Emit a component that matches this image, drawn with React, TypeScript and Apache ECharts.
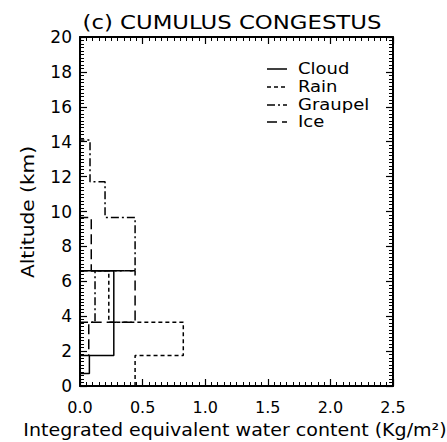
import React, { useEffect, useRef } from "react";
import * as echarts from "echarts";

// Layer boundaries (km) and layer-mean values (Kg/m^2)
const BOUNDS = [0, 0.72, 1.75, 3.66, 6.6, 9.66, 11.7, 14.1];
const CLOUD = [0, 0.075, 0.27, 0.27, 0, 0, 0];
const RAIN = [0.44, 0.44, 0.825, 0.23, 0, 0, 0];
const GRAUPEL = [0, 0, 0, 0.12, 0.44, 0.2, 0.08];
const ICE = [0, 0, 0.07, 0.44, 0.09, 0, 0];

const X_TICKS = [0, 0.5, 1.0, 1.5, 2.0, 2.5];
const Y_TICKS = [0, 2, 4, 6, 8, 10, 12, 14, 16, 18, 20];

const SERIES_NAMES = ["Cloud", "Rain", "Graupel", "Ice"];
const DASHES: (number[] | "solid")[] = ["solid", [4, 3], [8, 3, 2, 3], [10, 5]];

const FONT = '"DejaVu Sans", sans-serif';

function profile(vals: number[]): number[][] {
  let first = -1;
  let last = -1;
  vals.forEach((v, i) => {
    if (v > 0) {
      if (first < 0) first = i;
      last = i;
    }
  });
  const pts: number[][] = [];
  if (BOUNDS[first] > 0) pts.push([0, BOUNDS[first]]);
  for (let k = first; k <= last; k++) {
    pts.push([vals[k], BOUNDS[k]]);
    pts.push([vals[k], BOUNDS[k + 1]]);
  }
  pts.push([0, BOUNDS[last + 1]]);
  return pts;
}

function axisBase(kind: "x" | "y", gridIndex: number, position: string, showLabels: boolean): any {
  const isX = kind === "x";
  return {
    type: "value",
    gridIndex,
    position,
    min: 0,
    max: isX ? 2.5 : 20,
    interval: isX ? 0.5 : 2,
    axisLine: { show: true, onZero: gridIndex === 0, lineStyle: { color: "#000", width: 2 } },
    axisTick: { show: true, inside: true, length: 7, lineStyle: { color: "#000", width: 1.2 } },
    minorTick: { show: true, splitNumber: 10, length: 4, lineStyle: { color: "#000", width: 1 } },
    splitLine: { show: false },
    minorSplitLine: { show: false },
    axisLabel: showLabels
      ? {
          show: true,
          color: "#000",
          fontFamily: FONT,
          fontSize: isX ? 16 : 17,
          margin: isX ? 13 : 8,
          formatter: isX
            ? (v: number) => (X_TICKS.some((t) => Math.abs(t - v) < 1e-9) ? v.toFixed(1) : "")
            : (v: number) => (Y_TICKS.includes(v) ? String(v) : ""),
        }
      : { show: false },
  };
}

function centeredText(text: string, x: number, y: number, font: string, extra: any = {}): any {
  return {
    type: "text",
    x,
    y,
    ...extra,
    style: {
      text,
      font,
      fill: "#000",
      textAlign: "center",
      textVerticalAlign: "middle",
    },
  };
}

export default function App() {
  const ref = useRef<HTMLDivElement>(null);
  useEffect(() => {
    if (!ref.current) return;
    const chart = echarts.init(ref.current, null, { renderer: "svg" });
    const data = [CLOUD, RAIN, GRAUPEL, ICE];
    const legendY = [69, 87, 105, 122];
    const graphics: any[] = [];
    SERIES_NAMES.forEach((n, i) => {
      const d = DASHES[i];
      graphics.push({
        type: "line",
        shape: { x1: 267, y1: legendY[i], x2: 287, y2: legendY[i] },
        style: { stroke: "#000", lineWidth: 1.5, lineDash: d === "solid" ? null : d },
      });
      graphics.push({
        type: "text",
        x: 298,
        y: legendY[i],
        scaleX: 1.2,
        style: {
          text: n,
          font: `15px ${FONT}`,
          fill: "#000",
          textAlign: "left",
          textVerticalAlign: "middle",
        },
      });
    });
    graphics.push(centeredText("(c) CUMULUS CONGESTUS", 232, 23, `19px ${FONT}`, { scaleX: 1.2 }));
    graphics.push(
      centeredText("Integrated equivalent water content (Kg/m²)", 235, 430, `17px ${FONT}`, { scaleX: 1.12 })
    );
    graphics.push(
      centeredText("Altitude (km)", 28, 212, `18px ${FONT}`, { rotation: Math.PI / 2, scaleX: 1.12 })
    );

    const gridBox = { left: 80, right: 54, top: 37, bottom: 56, containLabel: false };
    chart.setOption({
      animation: false,
      grid: [gridBox, { ...gridBox }],
      xAxis: [axisBase("x", 0, "bottom", true), axisBase("x", 1, "top", false)],
      yAxis: [axisBase("y", 0, "left", true), axisBase("y", 1, "right", false)],
      series: data.map((vals, i) => ({
        name: SERIES_NAMES[i],
        type: "line",
        xAxisIndex: 0,
        yAxisIndex: 0,
        data: profile(vals),
        showSymbol: false,
        symbol: "none",
        lineStyle: { color: "#000", width: 1.5, type: DASHES[i] },
      })),
      graphic: graphics,
    });
    return () => chart.dispose();
  }, []);
  return <div ref={ref} style={{ width: 447, height: 442, position: "absolute", left: 0, top: 0 }} />;
}
